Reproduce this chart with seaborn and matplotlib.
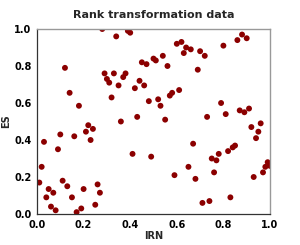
import matplotlib
matplotlib.use("Agg")
import matplotlib.pyplot as plt
import seaborn as sns
import pandas as pd

irn = [0.28, 0.34, 0.39, 0.40, 0.12, 0.14, 0.18, 0.29, 0.30, 0.31,
       0.33, 0.35, 0.37, 0.38, 0.32, 0.36, 0.42, 0.44, 0.46, 0.45,
       0.47, 0.50, 0.51, 0.54, 0.56, 0.48, 0.52, 0.53, 0.43, 0.55,
       0.41, 0.49, 0.57, 0.58, 0.61, 0.60, 0.62, 0.64, 0.63, 0.66,
       0.70, 0.72, 0.69, 0.80, 0.86, 0.88, 0.90, 0.59, 0.65, 0.67,
       0.68, 0.71, 0.74, 0.73, 0.79, 0.81, 0.75, 0.77, 0.76, 0.78,
       0.82, 0.84, 0.85, 0.83, 0.87, 0.89, 0.91, 0.92, 0.96, 0.95,
       0.94, 0.93, 0.97, 0.98, 0.99, 1.00, 0.01, 0.02, 0.03, 0.04,
       0.05, 0.06, 0.07, 0.08, 0.09, 0.10, 0.11, 0.13, 0.15, 0.16,
       0.17, 0.19, 0.20, 0.21, 0.22, 0.23, 0.24, 0.25, 0.26, 0.27]
es = [1.00, 0.96, 0.99, 0.98, 0.79, 0.655, 0.585, 0.76, 0.73, 0.71,
      0.76, 0.695, 0.74, 0.76, 0.63, 0.50, 0.68, 0.72, 0.695, 0.82,
      0.81, 0.84, 0.83, 0.855, 0.80, 0.61, 0.62, 0.585, 0.525, 0.51,
      0.325, 0.31, 0.64, 0.655, 0.67, 0.92, 0.93, 0.90, 0.87, 0.89,
      0.88, 0.855, 0.78, 0.91, 0.94, 0.97, 0.95, 0.21, 0.255, 0.38,
      0.19, 0.06, 0.07, 0.525, 0.60, 0.54, 0.30, 0.29, 0.225, 0.325,
      0.34, 0.36, 0.37, 0.09, 0.56, 0.55, 0.57, 0.47, 0.49, 0.445,
      0.41, 0.20, 0.225, 0.255, 0.28, 0.26, 0.17, 0.255, 0.39, 0.09,
      0.135, 0.04, 0.115, 0.02, 0.35, 0.43, 0.18, 0.15, 0.09, 0.42,
      0.01, 0.03, 0.135, 0.445, 0.48, 0.40, 0.46, 0.05, 0.16, 0.115]

ticks = [0.0, 0.2, 0.4, 0.6, 0.8, 1.0]
tick_labels = ["0.0", "0.2", "0.4", "0.6", "0.8", "1.0"]

df = pd.DataFrame({"IRN": irn, "ES": es})

sns.set_style("white")
plt.rcParams['font.family'] = ['DejaVu Sans']

fig = plt.figure(figsize=(3.0, 2.45), dpi=100)
ax = fig.add_axes([37/300, 1 - 214/245, 233/300, 185/245])
sns.scatterplot(data=df, x="IRN", y="ES", color="#8b0000", s=18,
                edgecolor="none", linewidth=0, ax=ax)
ax.set_xlim(0, 1)
ax.set_ylim(0, 1)
ax.set_xticks(ticks)
ax.set_xticklabels(tick_labels, fontsize=7, fontweight="bold")
ax.set_yticks(ticks)
ax.set_yticklabels(tick_labels, fontsize=7, fontweight="bold")
ax.tick_params(axis="both", length=2.5, width=0.8, pad=1.5, colors="#222222")
for lab in ax.get_xticklabels() + ax.get_yticklabels():
    lab.set_color("black")
ax.set_xlabel("IRN", fontsize=7, fontweight="bold", labelpad=1)
ax.set_ylabel("ES", fontsize=7, fontweight="bold", labelpad=2)
ax.set_title("Rank transformation data", fontsize=8, fontweight="bold", pad=8)
for side in ["left", "bottom"]:
    ax.spines[side].set_color("#333333")
    ax.spines[side].set_linewidth(0.9)
for side in ["top", "right"]:
    ax.spines[side].set_color("#999999")
    ax.spines[side].set_linewidth(1.0)

fig.savefig("out.png", dpi=100)
